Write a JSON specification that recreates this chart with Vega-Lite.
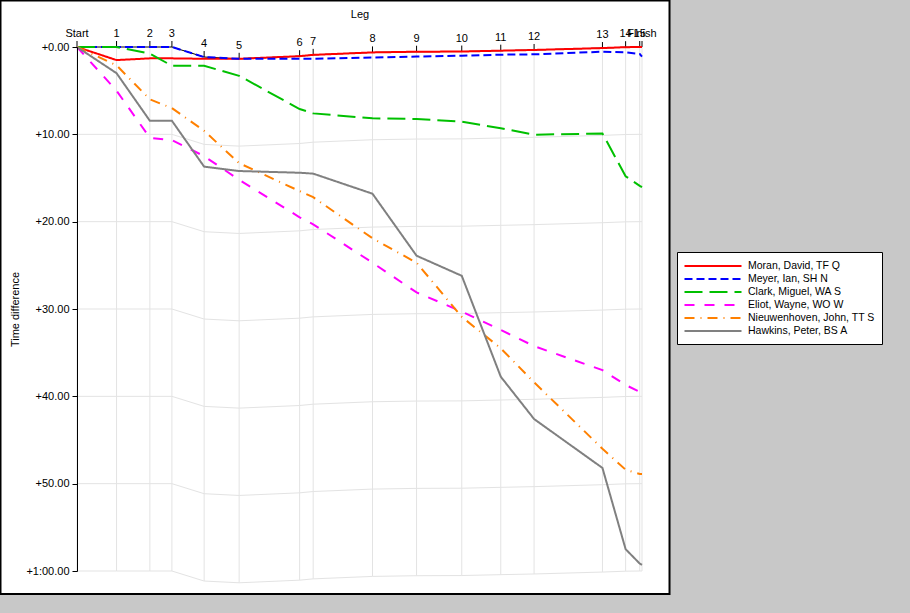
{
  "$schema": "https://vega.github.io/schema/vega-lite/v6.json",
  "autosize": "none",
  "width": 565,
  "height": 524,
  "padding": {"left": 77, "top": 47, "right": 268, "bottom": 42},
  "background": "#c8c8c8",
  "datasets": {
    "controls": [
      {"leg": "Start", "x": 0, "lead": 0, "g10": 10, "g20": 20, "g30": 30, "g40": 40, "g50": 50, "g60": 60},
      {"leg": "1", "x": 7.0, "lead": 0, "g10": 10, "g20": 20, "g30": 30, "g40": 40, "g50": 50, "g60": 60},
      {"leg": "2", "x": 12.9, "lead": 0, "g10": 10, "g20": 20, "g30": 30, "g40": 40, "g50": 50, "g60": 60},
      {"leg": "3", "x": 16.8, "lead": 0, "g10": 10, "g20": 20, "g30": 30, "g40": 40, "g50": 50, "g60": 60},
      {"leg": "4", "x": 22.5, "lead": 1.15, "g10": 11.15, "g20": 21.15, "g30": 31.15, "g40": 41.15, "g50": 51.15, "g60": 61.15},
      {"leg": "5", "x": 28.7, "lead": 1.35, "g10": 11.35, "g20": 21.35, "g30": 31.35, "g40": 41.35, "g50": 51.35, "g60": 61.35},
      {"leg": "6", "x": 39.4, "lead": 1.05, "g10": 11.05, "g20": 21.05, "g30": 31.05, "g40": 41.05, "g50": 51.05, "g60": 61.05},
      {"leg": "7", "x": 41.8, "lead": 0.9, "g10": 10.9, "g20": 20.9, "g30": 30.9, "g40": 40.9, "g50": 50.9, "g60": 60.9},
      {"leg": "8", "x": 52.3, "lead": 0.62, "g10": 10.62, "g20": 20.62, "g30": 30.62, "g40": 40.62, "g50": 50.62, "g60": 60.62},
      {"leg": "9", "x": 60.1, "lead": 0.54, "g10": 10.54, "g20": 20.54, "g30": 30.54, "g40": 40.54, "g50": 50.54, "g60": 60.54},
      {"leg": "10", "x": 68.1, "lead": 0.52, "g10": 10.52, "g20": 20.52, "g30": 30.52, "g40": 40.52, "g50": 50.52, "g60": 60.52},
      {"leg": "11", "x": 75.0, "lead": 0.42, "g10": 10.42, "g20": 20.42, "g30": 30.42, "g40": 40.42, "g50": 50.42, "g60": 60.42},
      {"leg": "12", "x": 80.9, "lead": 0.34, "g10": 10.34, "g20": 20.34, "g30": 30.34, "g40": 40.34, "g50": 50.34, "g60": 60.34},
      {"leg": "13", "x": 93.0, "lead": 0.12, "g10": 10.12, "g20": 20.12, "g30": 30.12, "g40": 40.12, "g50": 50.12, "g60": 60.12},
      {"leg": "14", "x": 97.1, "lead": 0.02, "g10": 10.02, "g20": 20.02, "g30": 30.02, "g40": 40.02, "g50": 50.02, "g60": 60.02},
      {"leg": "15", "x": 99.6, "lead": 0, "g10": 10, "g20": 20, "g30": 30, "g40": 40, "g50": 50, "g60": 60},
      {"leg": "Finish", "x": 100, "lead": 0, "g10": 10, "g20": 20, "g30": 30, "g40": 40, "g50": 50, "g60": 60}
    ],
    "splits": [
      {"runner": "Moran, David, TF Q", "leg": "Start", "x": 0, "diff": 0},
      {"runner": "Moran, David, TF Q", "leg": "1", "x": 7.0, "diff": 1.5},
      {"runner": "Moran, David, TF Q", "leg": "2", "x": 12.9, "diff": 1.3},
      {"runner": "Moran, David, TF Q", "leg": "3", "x": 16.8, "diff": 1.3},
      {"runner": "Moran, David, TF Q", "leg": "4", "x": 22.5, "diff": 1.35},
      {"runner": "Moran, David, TF Q", "leg": "5", "x": 28.7, "diff": 1.35},
      {"runner": "Moran, David, TF Q", "leg": "6", "x": 39.4, "diff": 1.05},
      {"runner": "Moran, David, TF Q", "leg": "7", "x": 41.8, "diff": 0.9},
      {"runner": "Moran, David, TF Q", "leg": "8", "x": 52.3, "diff": 0.62},
      {"runner": "Moran, David, TF Q", "leg": "9", "x": 60.1, "diff": 0.54},
      {"runner": "Moran, David, TF Q", "leg": "10", "x": 68.1, "diff": 0.52},
      {"runner": "Moran, David, TF Q", "leg": "11", "x": 75.0, "diff": 0.42},
      {"runner": "Moran, David, TF Q", "leg": "12", "x": 80.9, "diff": 0.34},
      {"runner": "Moran, David, TF Q", "leg": "13", "x": 93.0, "diff": 0.12},
      {"runner": "Moran, David, TF Q", "leg": "14", "x": 97.1, "diff": 0.02},
      {"runner": "Moran, David, TF Q", "leg": "15", "x": 99.6, "diff": 0},
      {"runner": "Moran, David, TF Q", "leg": "Finish", "x": 100, "diff": 0},
      {"runner": "Meyer, Ian, SH N", "leg": "Start", "x": 0, "diff": 0},
      {"runner": "Meyer, Ian, SH N", "leg": "1", "x": 7.0, "diff": 0},
      {"runner": "Meyer, Ian, SH N", "leg": "2", "x": 12.9, "diff": 0},
      {"runner": "Meyer, Ian, SH N", "leg": "3", "x": 16.8, "diff": 0},
      {"runner": "Meyer, Ian, SH N", "leg": "4", "x": 22.5, "diff": 1.15},
      {"runner": "Meyer, Ian, SH N", "leg": "5", "x": 28.7, "diff": 1.35},
      {"runner": "Meyer, Ian, SH N", "leg": "6", "x": 39.4, "diff": 1.35},
      {"runner": "Meyer, Ian, SH N", "leg": "7", "x": 41.8, "diff": 1.35},
      {"runner": "Meyer, Ian, SH N", "leg": "8", "x": 52.3, "diff": 1.2},
      {"runner": "Meyer, Ian, SH N", "leg": "9", "x": 60.1, "diff": 1.1},
      {"runner": "Meyer, Ian, SH N", "leg": "10", "x": 68.1, "diff": 1.0},
      {"runner": "Meyer, Ian, SH N", "leg": "11", "x": 75.0, "diff": 0.88},
      {"runner": "Meyer, Ian, SH N", "leg": "12", "x": 80.9, "diff": 0.84},
      {"runner": "Meyer, Ian, SH N", "leg": "13", "x": 93.0, "diff": 0.54},
      {"runner": "Meyer, Ian, SH N", "leg": "14", "x": 97.1, "diff": 0.62},
      {"runner": "Meyer, Ian, SH N", "leg": "15", "x": 99.6, "diff": 0.8},
      {"runner": "Meyer, Ian, SH N", "leg": "Finish", "x": 100, "diff": 1.1},
      {"runner": "Clark, Miguel, WA S", "leg": "Start", "x": 0, "diff": 0},
      {"runner": "Clark, Miguel, WA S", "leg": "1", "x": 7.0, "diff": 0},
      {"runner": "Clark, Miguel, WA S", "leg": "2", "x": 12.9, "diff": 0.75},
      {"runner": "Clark, Miguel, WA S", "leg": "3", "x": 16.8, "diff": 2.15},
      {"runner": "Clark, Miguel, WA S", "leg": "4", "x": 22.5, "diff": 2.15},
      {"runner": "Clark, Miguel, WA S", "leg": "5", "x": 28.7, "diff": 3.3},
      {"runner": "Clark, Miguel, WA S", "leg": "6", "x": 39.4, "diff": 7.1},
      {"runner": "Clark, Miguel, WA S", "leg": "7", "x": 41.8, "diff": 7.6},
      {"runner": "Clark, Miguel, WA S", "leg": "8", "x": 52.3, "diff": 8.17},
      {"runner": "Clark, Miguel, WA S", "leg": "9", "x": 60.1, "diff": 8.25},
      {"runner": "Clark, Miguel, WA S", "leg": "10", "x": 68.1, "diff": 8.55},
      {"runner": "Clark, Miguel, WA S", "leg": "11", "x": 75.0, "diff": 9.3},
      {"runner": "Clark, Miguel, WA S", "leg": "12", "x": 80.9, "diff": 10.04},
      {"runner": "Clark, Miguel, WA S", "leg": "13", "x": 93.0, "diff": 9.9},
      {"runner": "Clark, Miguel, WA S", "leg": "14", "x": 97.1, "diff": 14.8},
      {"runner": "Clark, Miguel, WA S", "leg": "15", "x": 99.6, "diff": 15.9},
      {"runner": "Clark, Miguel, WA S", "leg": "Finish", "x": 100, "diff": 16.05},
      {"runner": "Eliot, Wayne, WO W", "leg": "Start", "x": 0, "diff": 0},
      {"runner": "Eliot, Wayne, WO W", "leg": "1", "x": 7.0, "diff": 5.0},
      {"runner": "Eliot, Wayne, WO W", "leg": "2", "x": 12.9, "diff": 10.4},
      {"runner": "Eliot, Wayne, WO W", "leg": "3", "x": 16.8, "diff": 10.65},
      {"runner": "Eliot, Wayne, WO W", "leg": "4", "x": 22.5, "diff": 12.5},
      {"runner": "Eliot, Wayne, WO W", "leg": "5", "x": 28.7, "diff": 15.2},
      {"runner": "Eliot, Wayne, WO W", "leg": "6", "x": 39.4, "diff": 19.5},
      {"runner": "Eliot, Wayne, WO W", "leg": "7", "x": 41.8, "diff": 20.3},
      {"runner": "Eliot, Wayne, WO W", "leg": "8", "x": 52.3, "diff": 24.7},
      {"runner": "Eliot, Wayne, WO W", "leg": "9", "x": 60.1, "diff": 28.1},
      {"runner": "Eliot, Wayne, WO W", "leg": "10", "x": 68.1, "diff": 30.3},
      {"runner": "Eliot, Wayne, WO W", "leg": "11", "x": 75.0, "diff": 32.4},
      {"runner": "Eliot, Wayne, WO W", "leg": "12", "x": 80.9, "diff": 34.25},
      {"runner": "Eliot, Wayne, WO W", "leg": "13", "x": 93.0, "diff": 37.0},
      {"runner": "Eliot, Wayne, WO W", "leg": "14", "x": 97.1, "diff": 38.7},
      {"runner": "Eliot, Wayne, WO W", "leg": "15", "x": 99.6, "diff": 39.5},
      {"runner": "Eliot, Wayne, WO W", "leg": "Finish", "x": 100, "diff": 39.6},
      {"runner": "Nieuwenhoven, John, TT S", "leg": "Start", "x": 0, "diff": 0},
      {"runner": "Nieuwenhoven, John, TT S", "leg": "1", "x": 7.0, "diff": 2.1},
      {"runner": "Nieuwenhoven, John, TT S", "leg": "2", "x": 12.9, "diff": 6.0},
      {"runner": "Nieuwenhoven, John, TT S", "leg": "3", "x": 16.8, "diff": 7.0},
      {"runner": "Nieuwenhoven, John, TT S", "leg": "4", "x": 22.5, "diff": 9.6},
      {"runner": "Nieuwenhoven, John, TT S", "leg": "5", "x": 28.7, "diff": 13.3},
      {"runner": "Nieuwenhoven, John, TT S", "leg": "6", "x": 39.4, "diff": 16.5},
      {"runner": "Nieuwenhoven, John, TT S", "leg": "7", "x": 41.8, "diff": 17.2},
      {"runner": "Nieuwenhoven, John, TT S", "leg": "8", "x": 52.3, "diff": 21.9},
      {"runner": "Nieuwenhoven, John, TT S", "leg": "9", "x": 60.1, "diff": 24.7},
      {"runner": "Nieuwenhoven, John, TT S", "leg": "10", "x": 68.1, "diff": 30.9},
      {"runner": "Nieuwenhoven, John, TT S", "leg": "11", "x": 75.0, "diff": 34.5},
      {"runner": "Nieuwenhoven, John, TT S", "leg": "12", "x": 80.9, "diff": 38.4},
      {"runner": "Nieuwenhoven, John, TT S", "leg": "13", "x": 93.0, "diff": 46.0},
      {"runner": "Nieuwenhoven, John, TT S", "leg": "14", "x": 97.1, "diff": 48.4},
      {"runner": "Nieuwenhoven, John, TT S", "leg": "15", "x": 99.6, "diff": 48.9},
      {"runner": "Nieuwenhoven, John, TT S", "leg": "Finish", "x": 100, "diff": 48.9},
      {"runner": "Hawkins, Peter, BS A", "leg": "Start", "x": 0, "diff": 0},
      {"runner": "Hawkins, Peter, BS A", "leg": "1", "x": 7.0, "diff": 3.0},
      {"runner": "Hawkins, Peter, BS A", "leg": "2", "x": 12.9, "diff": 8.45},
      {"runner": "Hawkins, Peter, BS A", "leg": "3", "x": 16.8, "diff": 8.45},
      {"runner": "Hawkins, Peter, BS A", "leg": "4", "x": 22.5, "diff": 13.7},
      {"runner": "Hawkins, Peter, BS A", "leg": "5", "x": 28.7, "diff": 14.2},
      {"runner": "Hawkins, Peter, BS A", "leg": "6", "x": 39.4, "diff": 14.4},
      {"runner": "Hawkins, Peter, BS A", "leg": "7", "x": 41.8, "diff": 14.5},
      {"runner": "Hawkins, Peter, BS A", "leg": "8", "x": 52.3, "diff": 16.8},
      {"runner": "Hawkins, Peter, BS A", "leg": "9", "x": 60.1, "diff": 23.9},
      {"runner": "Hawkins, Peter, BS A", "leg": "10", "x": 68.1, "diff": 26.2},
      {"runner": "Hawkins, Peter, BS A", "leg": "11", "x": 75.0, "diff": 37.75},
      {"runner": "Hawkins, Peter, BS A", "leg": "12", "x": 80.9, "diff": 42.6},
      {"runner": "Hawkins, Peter, BS A", "leg": "13", "x": 93.0, "diff": 48.2},
      {"runner": "Hawkins, Peter, BS A", "leg": "14", "x": 97.1, "diff": 57.5},
      {"runner": "Hawkins, Peter, BS A", "leg": "15", "x": 99.6, "diff": 59.15},
      {"runner": "Hawkins, Peter, BS A", "leg": "Finish", "x": 100, "diff": 59.3}
    ]
  },
  "layer": [
    {
      "data": {"values": [{}]},
      "mark": {"type": "rect", "fill": "white", "stroke": "black", "strokeWidth": 2},
      "encoding": {
        "x": {
          "datum": -13.54, "type": "quantitative", "title": "Leg",
          "scale": {"domain": [0, 100], "nice": false, "zero": false},
          "axis": {"orient": "top", "labels": false, "ticks": false, "domain": false, "grid": false, "titlePadding": 28, "zindex": 1}
        },
        "x2": {"datum": 104.87},
        "y": {
          "datum": -5.325, "type": "quantitative", "title": "Time difference",
          "scale": {"domain": [0, 60], "reverse": true, "nice": false, "zero": false},
          "axis": {"values": [0, 10, 20, 30, 40, 50, 60], "labelExpr": "datum.value == 60 ? '+1:00.00' : '+' + datum.value + '.00'", "grid": false, "tickSize": 5, "labelPadding": 3, "titlePadding": 5, "zindex": 1}
        },
        "y2": {"datum": 62.64}
      }
    },
    {
      "data": {"name": "controls"},
      "transform": [{"fold": ["g10", "g20", "g30", "g40", "g50", "g60"], "as": ["level", "gy"]}],
      "mark": {"type": "line", "stroke": "#e3e3e3", "strokeWidth": 1},
      "encoding": {
        "x": {
          "field": "x", "type": "quantitative", "title": "Leg",
          "scale": {"domain": [0, 100], "nice": false, "zero": false},
          "axis": {"orient": "top", "labels": false, "ticks": false, "domain": false, "grid": false, "titlePadding": 28, "zindex": 1}
        },
        "y": {
          "field": "gy", "type": "quantitative", "title": "Time difference",
          "scale": {"domain": [0, 60], "reverse": true, "nice": false, "zero": false},
          "axis": {"values": [0, 10, 20, 30, 40, 50, 60], "labelExpr": "datum.value == 60 ? '+1:00.00' : '+' + datum.value + '.00'", "grid": false, "tickSize": 5, "labelPadding": 3, "titlePadding": 5, "zindex": 1}
        },
        "detail": {"field": "level"}
      }
    },
    {
      "data": {"name": "controls"},
      "mark": {"type": "rule", "stroke": "#e3e3e3", "strokeWidth": 1},
      "encoding": {
        "x": {
          "field": "x", "type": "quantitative", "title": "Leg",
          "scale": {"domain": [0, 100], "nice": false, "zero": false},
          "axis": {"orient": "top", "labels": false, "ticks": false, "domain": false, "grid": false, "titlePadding": 28, "zindex": 1}
        },
        "y": {
          "field": "lead", "type": "quantitative", "title": "Time difference",
          "scale": {"domain": [0, 60], "reverse": true, "nice": false, "zero": false},
          "axis": {"values": [0, 10, 20, 30, 40, 50, 60], "labelExpr": "datum.value == 60 ? '+1:00.00' : '+' + datum.value + '.00'", "grid": false, "tickSize": 5, "labelPadding": 3, "titlePadding": 5, "zindex": 1}
        },
        "y2": {"field": "g60"}
      }
    },
    {
      "data": {"name": "controls"},
      "mark": {"type": "line", "stroke": "black", "strokeWidth": 1},
      "encoding": {
        "x": {
          "field": "x", "type": "quantitative", "title": "Leg",
          "scale": {"domain": [0, 100], "nice": false, "zero": false},
          "axis": {"orient": "top", "labels": false, "ticks": false, "domain": false, "grid": false, "titlePadding": 28, "zindex": 1}
        },
        "y": {
          "field": "lead", "type": "quantitative", "title": "Time difference",
          "scale": {"domain": [0, 60], "reverse": true, "nice": false, "zero": false},
          "axis": {"values": [0, 10, 20, 30, 40, 50, 60], "labelExpr": "datum.value == 60 ? '+1:00.00' : '+' + datum.value + '.00'", "grid": false, "tickSize": 5, "labelPadding": 3, "titlePadding": 5, "zindex": 1}
        }
      }
    },
    {
      "data": {"name": "controls"},
      "mark": {"type": "rule", "stroke": "black", "strokeWidth": 1, "y2Offset": -6},
      "encoding": {
        "x": {
          "field": "x", "type": "quantitative", "title": "Leg",
          "scale": {"domain": [0, 100], "nice": false, "zero": false},
          "axis": {"orient": "top", "labels": false, "ticks": false, "domain": false, "grid": false, "titlePadding": 28, "zindex": 1}
        },
        "y": {
          "field": "lead", "type": "quantitative", "title": "Time difference",
          "scale": {"domain": [0, 60], "reverse": true, "nice": false, "zero": false},
          "axis": {"values": [0, 10, 20, 30, 40, 50, 60], "labelExpr": "datum.value == 60 ? '+1:00.00' : '+' + datum.value + '.00'", "grid": false, "tickSize": 5, "labelPadding": 3, "titlePadding": 5, "zindex": 1}
        },
        "y2": {"field": "lead"}
      }
    },
    {
      "data": {"name": "controls"},
      "mark": {"type": "text", "font": "Liberation Sans", "fontSize": 11, "color": "black", "align": "center", "baseline": "alphabetic", "dy": -10},
      "encoding": {
        "x": {
          "field": "x", "type": "quantitative", "title": "Leg",
          "scale": {"domain": [0, 100], "nice": false, "zero": false},
          "axis": {"orient": "top", "labels": false, "ticks": false, "domain": false, "grid": false, "titlePadding": 28, "zindex": 1}
        },
        "y": {
          "field": "lead", "type": "quantitative", "title": "Time difference",
          "scale": {"domain": [0, 60], "reverse": true, "nice": false, "zero": false},
          "axis": {"values": [0, 10, 20, 30, 40, 50, 60], "labelExpr": "datum.value == 60 ? '+1:00.00' : '+' + datum.value + '.00'", "grid": false, "tickSize": 5, "labelPadding": 3, "titlePadding": 5, "zindex": 1}
        },
        "text": {"field": "leg"}
      }
    },
    {
      "data": {"name": "splits"},
      "mark": {"type": "line", "strokeWidth": 2, "strokeCap": "butt"},
      "encoding": {
        "x": {
          "field": "x", "type": "quantitative", "title": "Leg",
          "scale": {"domain": [0, 100], "nice": false, "zero": false},
          "axis": {"orient": "top", "labels": false, "ticks": false, "domain": false, "grid": false, "titlePadding": 28, "zindex": 1}
        },
        "y": {
          "field": "diff", "type": "quantitative", "title": "Time difference",
          "scale": {"domain": [0, 60], "reverse": true, "nice": false, "zero": false},
          "axis": {"values": [0, 10, 20, 30, 40, 50, 60], "labelExpr": "datum.value == 60 ? '+1:00.00' : '+' + datum.value + '.00'", "grid": false, "tickSize": 5, "labelPadding": 3, "titlePadding": 5, "zindex": 1}
        },
        "color": {
          "field": "runner", "type": "nominal",
          "scale": {
            "domain": ["Moran, David, TF Q", "Meyer, Ian, SH N", "Clark, Miguel, WA S", "Eliot, Wayne, WO W", "Nieuwenhoven, John, TT S", "Hawkins, Peter, BS A"],
            "range": ["#ff0000", "#0000ff", "#00c000", "#ff00ff", "#ff8000", "#808080"]
          },
          "legend": {
            "orient": "none", "legendX": 600, "legendY": 205, "title": null,
            "strokeColor": "black", "fillColor": "white", "padding": 7, "cornerRadius": 0,
            "symbolType": "M-5,0H5", "symbolSize": 130, "symbolStrokeWidth": 2,
            "symbolOffset": 22, "labelOffset": 28, "rowPadding": 0,
            "labelFont": "Liberation Sans", "labelFontSize": 10.5, "labelColor": "black"
          }
        },
        "strokeDash": {
          "field": "runner", "type": "nominal",
          "scale": {
            "domain": ["Moran, David, TF Q", "Meyer, Ian, SH N", "Clark, Miguel, WA S", "Eliot, Wayne, WO W", "Nieuwenhoven, John, TT S", "Hawkins, Peter, BS A"],
            "range": [[1, 0], [8, 4], [18, 7], [10, 10], [10, 6, 1, 6], [1, 0]]
          }
        }
      }
    }
  ],
  "config": {
    "font": "Liberation Sans",
    "view": {"stroke": null},
    "axis": {
      "zindex": 1,
      "labelFont": "Liberation Sans", "labelFontSize": 11, "labelColor": "black",
      "titleFont": "Liberation Sans", "titleFontSize": 11, "titleFontWeight": "normal", "titleColor": "black",
      "domainColor": "black", "tickColor": "black"
    }
  }
}
